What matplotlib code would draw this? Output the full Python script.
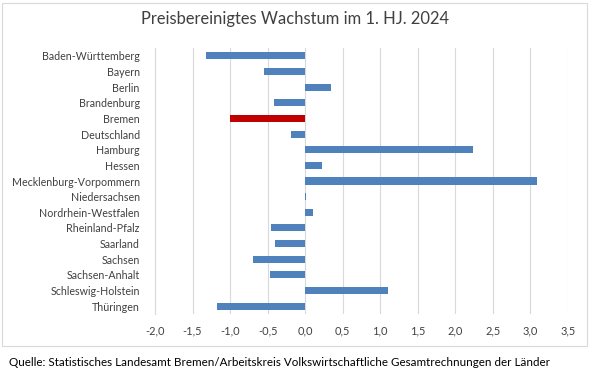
import matplotlib
matplotlib.use('Agg')
from matplotlib import pyplot as plt
from matplotlib.patches import Rectangle

plt.rcParams['font.family'] = ['Lato', 'DejaVu Sans']

laender = ['Baden-Württemberg', 'Bayern', 'Berlin', 'Brandenburg', 'Bremen',
           'Deutschland', 'Hamburg', 'Hessen', 'Mecklenburg-Vorpommern',
           'Niedersachsen', 'Nordrhein-Westfalen', 'Rheinland-Pfalz', 'Saarland',
           'Sachsen', 'Sachsen-Anhalt', 'Schleswig-Holstein', 'Thüringen']
wachstum = [-1.32, -0.55, 0.35, -0.41, -1.0, -0.19, 2.24, 0.22, 3.09,
            0.01, 0.11, -0.46, -0.40, -0.69, -0.47, 1.10, -1.17]
ticks = [-2.0, -1.5, -1.0, -0.5, 0.0, 0.5, 1.0, 1.5, 2.0, 2.5, 3.0, 3.5]

blau = '#4f81bd'
rot = '#c00000'
farben = [rot if l == 'Bremen' else blau for l in laender]

fig = plt.figure(figsize=(5.9, 3.75), dpi=100)
ax = fig.add_axes([155/590, 1 - 314/375, (568-155)/590, (314-48)/375])

ax.barh(range(len(laender)), wachstum, height=0.45, color=farben, zorder=3)
ax.set_yticks(range(len(laender)))
ax.set_yticklabels(laender, fontsize=7.7, color='#404040')
ax.set_ylim(len(laender) - 0.5, -0.5)
ax.set_xlim(-2.0, 3.5)
ax.set_xticks(ticks)
ax.set_xticklabels([('%.1f' % t).replace('.', ',') for t in ticks], fontsize=7.9, color='#404040')
ax.xaxis.grid(True, color='#d9d9d9', lw=0.8, zorder=0)
for s in ['top', 'right', 'bottom']:
    ax.spines[s].set_visible(False)
ax.spines['left'].set_color('#d9d9d9')
ax.tick_params(length=0, pad=11)
ax.tick_params(axis='x', pad=8)

fig.text(0.5, 1 - 19/375, 'Preisbereinigtes Wachstum im 1. HJ. 2024', ha='center', va='center',
         fontsize=11.9, color='#404040')
fig.patches.append(Rectangle((2/590, 1 - 346/375), 585/590, 343/375, transform=fig.transFigure,
                             fill=False, edgecolor='#d9d9d9', lw=0.8))
fig.text(9/590, 1 - 362/375, 'Quelle: Statistisches Landesamt Bremen/Arbeitskreis Volkswirtschaftliche Gesamtrechnungen der Länder',
         ha='left', va='center', fontsize=8.35, color='black')

fig.savefig('out.png', dpi=100)
